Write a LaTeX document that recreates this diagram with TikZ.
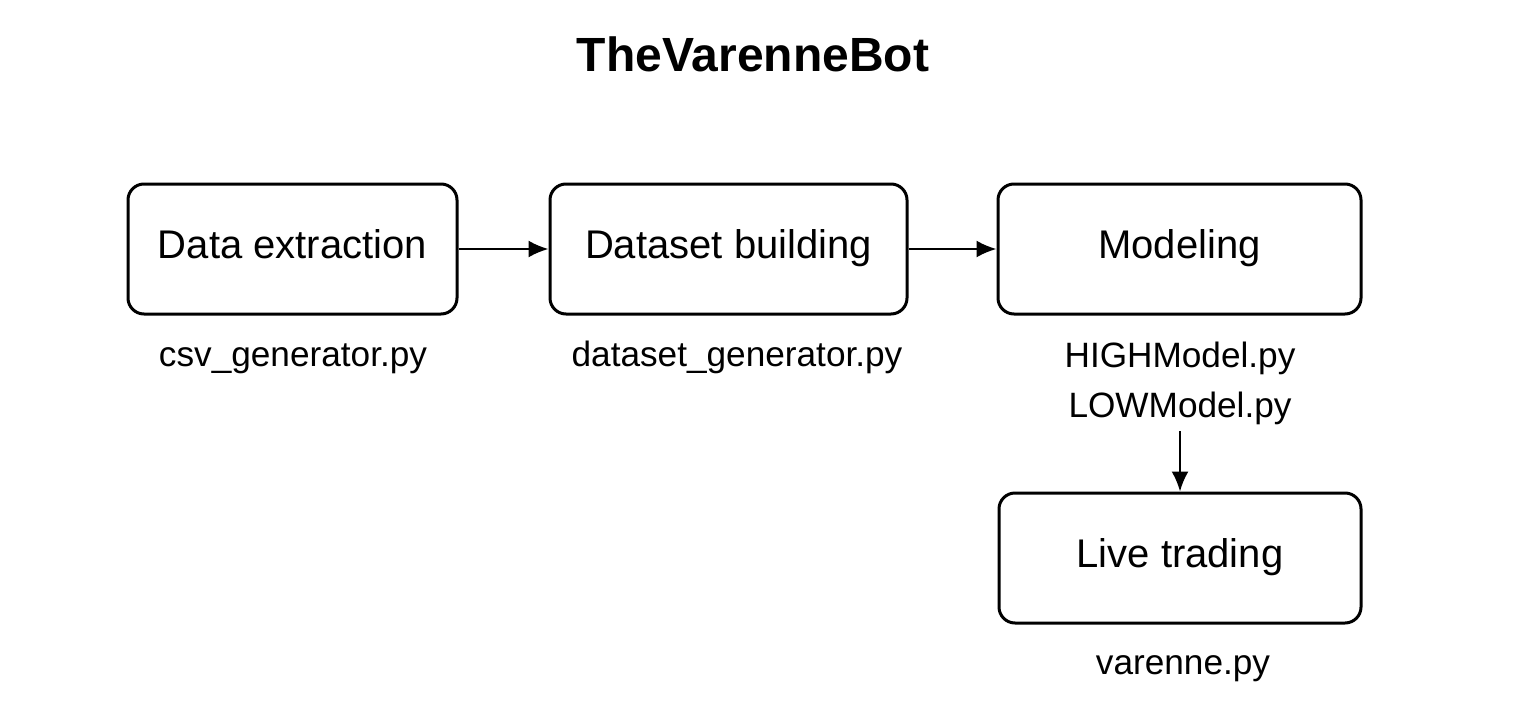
\documentclass[tikz,border=0pt]{standalone}
\usepackage{fontspec}
\setmainfont{Liberation Sans}
\usetikzlibrary{arrows.meta}
\begin{document}
\begin{tikzpicture}[x=0.5pt,y=-0.5pt,
  stagebox/.style={draw, line width=1.5pt, rounded corners=8pt, minimum height=65pt, inner sep=0pt,
    font=\fontsize{20}{24}\selectfont, text height=0.916em, text depth=0pt},
  filelabel/.style={font=\fontsize{17.6}{21}\selectfont, anchor=base},
  flow/.style={line width=1.1pt, -{Latex[length=10pt,width=8.5pt]}}]
\useasboundingbox (0,0) rectangle (1536,706);
\node[font=\bfseries\fontsize{24}{28}\selectfont, anchor=base] (title) at (753,72) {TheVarenneBot};
\node[stagebox, minimum width=164.5pt] (extract) at (292.5,249) {Data extraction};
\node[stagebox, minimum width=178.5pt] (build) at (728.5,249) {Dataset building};
\node[stagebox, minimum width=181.5pt] (model) at (1179.5,249) {Modeling};
\node[stagebox, minimum width=181pt] (live) at (1180,558) {Live trading};
\node[filelabel] (csv) at (293,366) {csv\_generator.py};
\node[filelabel] (dsg) at (737,366) {dataset\_generator.py};
\node[filelabel] (high) at (1180,367) {HIGHModel.py};
\node[filelabel] (low) at (1180,417) {LOWModel.py};
\node[filelabel] (var) at (1183,674) {varenne.py};
\draw[flow] (extract.east) -- (build.west);
\draw[flow] (build.east) -- (model.west);
\draw[flow] (low.south) -- (live.north);
\end{tikzpicture}
\end{document}
